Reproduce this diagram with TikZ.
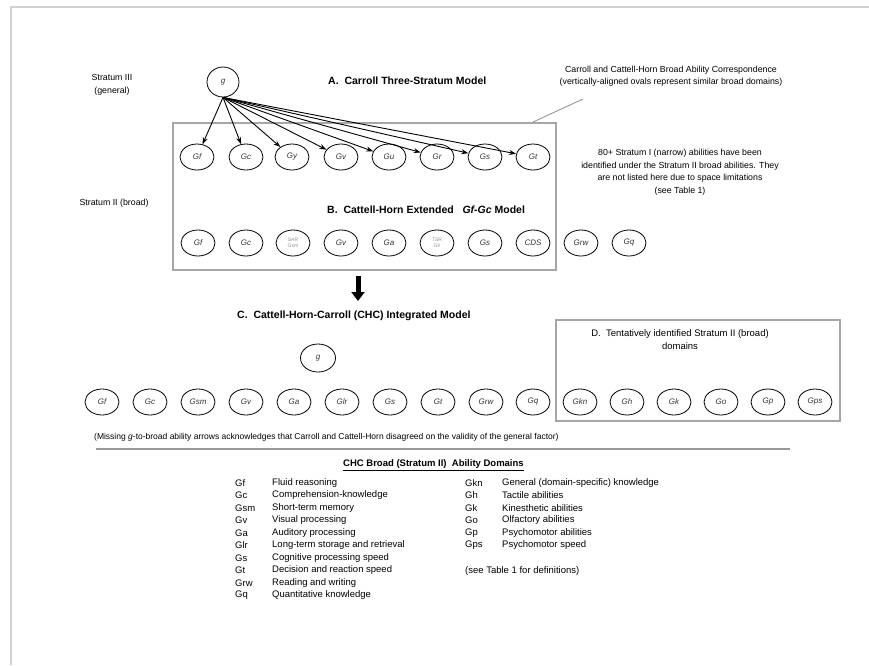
\documentclass[tikz,border=0pt]{standalone}
\usepackage{fontspec}
\setmainfont{Liberation Sans}
\usetikzlibrary{arrows.meta,shapes.geometric}
\begin{document}
\begin{tikzpicture}[x=1pt,y=-1pt,
  ov/.style={draw=black, line width=0.8pt, ellipse, minimum width=34pt, minimum height=26pt, inner sep=0pt, font=\fontsize{8}{9}\selectfont\itshape, text=black!80},
  ovg/.style={ov, font=\fontsize{5}{5.5}\selectfont, text=black!45, align=center},
  arr/.style={line width=0.9pt, -{Stealth[length=7pt,width=5pt]}},
  box/.style={draw=black!35, line width=1.4pt},
  ttl/.style={font=\fontsize{10.5}{12}\selectfont\bfseries, anchor=west, inner sep=0pt},
  txt/.style={font=\fontsize{8.8}{12.5}\selectfont, align=center, inner sep=0pt},
  leg/.style={font=\fontsize{9.5}{11}\selectfont, anchor=west, inner sep=0pt}
]
\useasboundingbox (0,0) rectangle (869,665);
% frame
\draw[black!18, line width=2pt] (11,665) -- (11,7) -- (869,7);

% stratum labels
\node[txt] (s3) at (112,85) {Stratum III\\(general)};
\node[txt] (s2) at (114,203) {Stratum II (broad)};

% box A/B
\draw[box] (173,123) rectangle (556,270);

% titles
\node[ttl] (tA) at (328,81) {A.\ \ Carroll Three-Stratum Model};
\node[ttl] (tB) at (327,210) {B.\ \ Cattell-Horn Extended\ \ \ \textit{Gf-Gc} Model};
\node[ttl] (tC) at (237,316) {C.\ \ Cattell-Horn-Carroll (CHC) Integrated Model};

% correspondence note
\node[txt] (corr) at (671,76) {Carroll and Cattell-Horn Broad Ability Correspondence\\(vertically-aligned ovals represent similar broad domains)};
\coordinate (ld1) at (583,99);
\coordinate (ld2) at (533,122);
\draw[black!45, line width=0.8pt] (ld1) -- (ld2);

% narrow abilities note
\node[txt] (narrow) at (680,172) {80+ Stratum I (narrow) abilities have been\\identified under the Stratum II broad abilities. They\\are not listed here due to space limitations\\(see Table 1)};

% row A
\node[ov, minimum width=32pt, minimum height=30pt] (gA) at (223,82) {g};
\node[ov] (a1) at (197,157) {Gf};
\node[ov] (a2) at (246,157) {Gc};
\node[ov] (a3) at (292,157) {Gy};
\node[ov] (a4) at (341,157) {Gv};
\node[ov] (a5) at (389,157) {Gu};
\node[ov] (a6) at (437,157) {Gr};
\node[ov] (a7) at (485,157) {Gs};
\node[ov] (a8) at (533,157) {Gt};
\foreach \n in {1,...,8} \draw[arr] (gA.south) -- (a\n);

% row B
\node[ov] (b1) at (198,243) {Gf};
\node[ov] (b2) at (246,243) {Gc};
\node[ovg] (b3) at (293,243) {SAR\\Gsm};
\node[ov] (b4) at (341,243) {Gv};
\node[ov] (b5) at (389,243) {Ga};
\node[ovg] (b6) at (437,243) {TSR\\Glr};
\node[ov] (b7) at (485,243) {Gs};
\node[ov] (b8) at (533,243) {CDS};
\node[ov] (b9) at (581,243) {Grw};
\node[ov] (b10) at (629,243) {Gq};

% big arrow
\coordinate (bigA) at (358,276);
\coordinate (bigB) at (358,301);
\draw[line width=5pt, -{Triangle[width=13pt,length=9pt]}] (bigA) -- (bigB);

% row C
\node[ov, minimum width=35pt, minimum height=28pt] (gC) at (318,358) {g};
\node[ov] (c1) at (102,402) {Gf};
\node[ov] (c2) at (150,402) {Gc};
\node[ov] (c3) at (198,402) {Gsm};
\node[ov] (c4) at (246,402) {Gv};
\node[ov] (c5) at (294,402) {Ga};
\node[ov] (c6) at (342,402) {Glr};
\node[ov] (c7) at (390,402) {Gs};
\node[ov] (c8) at (438,402) {Gt};
\node[ov] (c9) at (486,402) {Grw};
\node[ov] (c10) at (533,402) {Gq};

% box D
\draw[box] (556,320) rectangle (840,421);
\node[txt, font=\fontsize{9.5}{13}\selectfont] (tD) at (680,340) {D.\ \ Tentatively identified Stratum II (broad)\\domains};
\node[ov] (d1) at (580,402) {Gkn};
\node[ov] (d2) at (627,402) {Gh};
\node[ov] (d3) at (674,402) {Gk};
\node[ov] (d4) at (721,402) {Go};
\node[ov] (d5) at (768,402) {Gp};
\node[ov] (d6) at (815,402) {Gps};

% caption
\node[font=\fontsize{8.5}{10}\selectfont, anchor=west, inner sep=0pt] (cap) at (94,437) {(Missing \textit{g}-to-broad ability arrows acknowledges that Carroll and Cattell-Horn disagreed on the validity of the general factor)};
\coordinate (r1) at (96,449);
\coordinate (r2) at (790,449);
\draw[black!40, line width=1.5pt] (r1) -- (r2);

% legend
\node[font=\fontsize{9.5}{11}\selectfont\bfseries, anchor=west, inner sep=0pt] (lh) at (343,465) {\underline{CHC Broad (Stratum II)\ \ Ability Domains}};
\foreach \ab/\de [count=\i from 0] in {Gf/Fluid reasoning, Gc/Comprehension-knowledge, Gsm/Short-term memory, Gv/Visual processing, Ga/Auditory processing, Glr/Long-term storage and retrieval, Gs/Cognitive processing speed, Gt/Decision and reaction speed, Grw/Reading and writing, Gq/Quantitative knowledge} {
  \node[leg] (la\i) at (235,483+12.5*\i) {\ab};
  \node[leg] (ld\i) at (272,483+12.5*\i) {\de};
}
\foreach \ab/\de [count=\i from 0] in {Gkn/General (domain-specific) knowledge, Gh/Tactile abilities, Gk/Kinesthetic abilities, Go/Olfactory abilities, Gp/Psychomotor abilities, Gps/Psychomotor speed} {
  \node[leg] (ra\i) at (465,483+12.5*\i) {\ab};
  \node[leg] (rd\i) at (502,483+12.5*\i) {\de};
}
\node[leg] (see) at (465,571) {(see Table 1 for definitions)};
\end{tikzpicture}
\end{document}
